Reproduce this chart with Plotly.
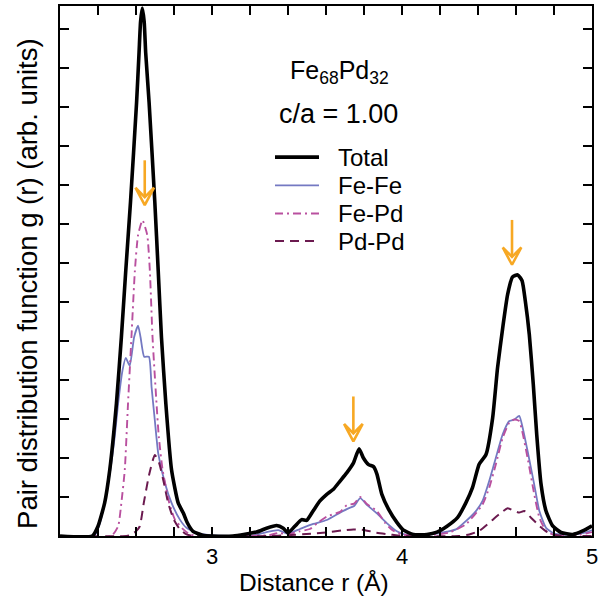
import plotly.graph_objects as go

# ---------------- data ----------------
r_total = [2.20, 2.37, 2.40, 2.435, 2.462, 2.497, 2.523, 2.546, 2.571, 2.603, 2.616, 2.624, 2.633, 2.643,
           2.651, 2.669, 2.699, 2.717, 2.734, 2.757, 2.787, 2.822, 2.849, 2.87, 2.90, 2.95, 3.00, 3.11,
           3.234, 3.287, 3.34, 3.375, 3.40, 3.436, 3.472, 3.498, 3.533, 3.568, 3.604, 3.639, 3.674, 3.709,
           3.744, 3.774, 3.797, 3.824, 3.85, 3.868, 3.894, 3.929, 3.973, 4.008, 4.06, 4.131, 4.184, 4.237,
           4.292, 4.336, 4.371, 4.406, 4.442, 4.477, 4.503, 4.53, 4.556, 4.582, 4.609, 4.632, 4.649, 4.67,
           4.691, 4.709, 4.732, 4.758, 4.793, 4.837, 4.898, 4.951, 5.0]
g_total = [0, 0, 0.25, 0.85, 1.7, 3.4, 5.1, 6.8, 8.57, 11.12, 12.4, 13.2, 13.55, 13.2,
           12.4, 11.12, 8.57, 6.8, 5.1, 3.4, 1.7, 0.85, 0.59, 0.34, 0.12, 0.02, 0.0, 0.0,
           0.1, 0.2, 0.27, 0.2, 0.08, 0.25, 0.42, 0.4, 0.65, 0.9, 1.07, 1.2, 1.41, 1.62,
           1.87, 2.24, 2.0, 1.83, 1.78, 1.59, 1.07, 0.69, 0.35, 0.15, 0.04, 0.04, 0.1, 0.25,
           0.47, 0.85, 1.24, 1.84, 2.09, 3.03, 4.32, 5.34, 6.2, 6.65, 6.7, 6.55, 6.03, 5.17,
           3.89, 2.61, 1.32, 0.64, 0.26, 0.09, 0.04, 0.13, 0.26]

r_fefe = [2.20, 2.38, 2.405, 2.435, 2.465, 2.488, 2.506, 2.529, 2.546, 2.567, 2.59, 2.611, 2.624, 2.643,
          2.668, 2.682, 2.699, 2.717, 2.752, 2.787, 2.831, 2.866, 2.919, 2.99, 3.2, 3.287, 3.349, 3.40,
          3.463, 3.533, 3.604, 3.674, 3.718, 3.748, 3.78, 3.815, 3.868, 3.92, 3.973, 4.008, 4.078, 4.166,
          4.237, 4.284, 4.336, 4.389, 4.424, 4.459, 4.494, 4.53, 4.565, 4.591, 4.617, 4.635, 4.661, 4.696,
          4.723, 4.758, 4.802, 4.898, 4.968, 5.0]
g_fefe = [0, 0, 0.25, 0.85, 1.7, 2.55, 3.4, 4.25, 4.57, 4.37, 5.1, 5.4, 5.1, 4.6,
          4.6, 3.82, 2.97, 2.12, 1.36, 0.85, 0.42, 0.21, 0.08, 0.02, 0.0, 0.1, 0.15, 0.06,
          0.18, 0.31, 0.41, 0.6, 0.71, 0.77, 0.97, 0.8, 0.58, 0.33, 0.12, 0.05, 0.02, 0.05,
          0.11, 0.17, 0.38, 0.64, 0.9, 1.41, 2.01, 2.61, 2.95, 2.99, 3.08, 2.78, 2.18, 1.32,
          0.64, 0.21, 0.06, 0.03, 0.09, 0.15]

r_fepd = [2.20, 2.47, 2.506, 2.523, 2.541, 2.558, 2.576, 2.594, 2.611, 2.634, 2.659, 2.673, 2.687, 2.708,
          2.72, 2.74, 2.775, 2.805, 2.849, 2.884, 2.93, 3.3, 3.35, 3.40, 3.46, 3.515, 3.56, 3.604,
          3.674, 3.709, 3.748, 3.78, 3.815, 3.868, 3.912, 3.95, 4.0, 4.1, 4.2, 4.249, 4.336, 4.424,
          4.459, 4.494, 4.53, 4.565, 4.591, 4.617, 4.661, 4.696, 4.723, 4.758, 4.8, 4.9, 5.0]
g_fepd = [0, 0, 0.25, 0.85, 1.7, 3.4, 5.1, 6.8, 7.73, 8.1, 7.73, 6.8, 5.1, 3.4,
          2.55, 1.7, 0.85, 0.42, 0.17, 0.04, 0.0, 0.02, 0.08, 0.04, 0.12, 0.18, 0.35, 0.5,
          0.62, 0.79, 0.83, 1.0, 0.82, 0.64, 0.33, 0.15, 0.04, 0.0, 0.05, 0.09, 0.3, 0.81,
          1.24, 1.84, 2.52, 2.91, 2.99, 2.95, 2.0, 1.07, 0.47, 0.13, 0.03, 0.0, 0.1]

r_pdpd = [2.20, 2.55, 2.567, 2.6, 2.62, 2.641, 2.669, 2.699, 2.722, 2.747, 2.769, 2.799, 2.831, 2.866,
          2.9, 3.3, 3.4, 3.52, 3.604, 3.68, 3.744, 3.806, 3.86, 3.95, 4.0, 4.3, 4.354, 4.406,
          4.459, 4.512, 4.556, 4.591, 4.617, 4.644, 4.679, 4.723, 4.767, 4.802, 4.85, 5.0]
g_pdpd = [0, 0, 0.02, 0.12, 0.25, 0.85, 1.57, 2.08, 1.87, 1.36, 0.85, 0.42, 0.17, 0.04,
          0.0, 0.0, 0.02, 0.06, 0.09, 0.14, 0.17, 0.15, 0.09, 0.03, 0.0, 0.0, 0.04, 0.13,
          0.34, 0.56, 0.71, 0.64, 0.6, 0.64, 0.47, 0.26, 0.09, 0.03, 0.0, 0.0]

series_names = ["Total", "Fe-Fe", "Fe-Pd", "Pd-Pd"]

# arrows marking the peaks: position and tip height
arrow_r = [2.646, 3.744, 4.579]
arrow_tip = [8.49, 2.43, 6.96]

x_tick_vals = [3, 4, 5]
x_tick_text = ["3", "4", "5"]
x_minor_vals = [2.2, 2.4, 2.6, 2.8, 3.2, 3.4, 3.6, 3.8, 4.2, 4.4, 4.6, 4.8]
y_tick_vals = list(range(0, 14))

# ---------------- styling ----------------
FONT = "Liberation Sans, Arial, Helvetica, sans-serif"
X_RANGE = [2.2, 5.0]
Y_RANGE = [0, 13.6]
W, H = 611, 610
ML, MR, MT, MB = 60, 19, 4, 74
PW, PH = W - ML - MR, H - MT - MB

colors = {"Total": "#000000", "Fe-Fe": "#7479c2", "Fe-Pd": "#b9509f", "Pd-Pd": "#6b1a4f"}
widths = {"Total": 3.6, "Fe-Fe": 1.8, "Fe-Pd": 1.9, "Pd-Pd": 2.0}
dashes = {"Total": "solid", "Fe-Fe": "solid", "Fe-Pd": "8px,4px,2px,4px", "Pd-Pd": "9px,6px"}
data = {"Total": (r_total, g_total), "Fe-Fe": (r_fefe, g_fefe),
        "Fe-Pd": (r_fepd, g_fepd), "Pd-Pd": (r_pdpd, g_pdpd)}

fig = go.Figure()
for name in ["Fe-Fe", "Fe-Pd", "Pd-Pd", "Total"]:
    r, g = data[name]
    fig.add_trace(go.Scatter(
        x=r, y=g, mode="lines", name=name, showlegend=False,
        line=dict(color=colors[name], width=widths[name], dash=dashes[name],
                  shape="spline", smoothing=0.5),
        hoverinfo="skip"))

# arrows (hollow barbed heads) built from the arrow list, sized in pixels
dxp = (X_RANGE[1] - X_RANGE[0]) / PW
dyp = (Y_RANGE[1] - Y_RANGE[0]) / PH
ORANGE = "#f7a823"
ax, ay = [], []
for xr, yt in zip(arrow_r, arrow_tip):
    shaft_len, head_len, half_w, notch = 45, 17.5, 9.3, 8
    ax += [xr, xr, None]
    ay += [yt + shaft_len * dyp, yt + notch * dyp, None]
    ax += [xr - half_w * dxp, xr, xr + half_w * dxp, xr, xr - half_w * dxp, None]
    ay += [yt + head_len * dyp, yt, yt + head_len * dyp, yt + notch * dyp, yt + head_len * dyp, None]
fig.add_trace(go.Scatter(x=ax, y=ay, mode="lines", showlegend=False, hoverinfo="skip",
                         line=dict(color=ORANGE, width=2.6)))

# legend drawn by hand (sample line + label)
leg_y_px = [155.7, 184, 212.3, 240]
shapes, annotations = [], []
for name, ypx in zip(series_names, leg_y_px):
    yp = (H - MB - ypx) / PH
    shapes.append(dict(type="line", xref="paper", yref="paper",
                       x0=(275 - ML) / PW, x1=(319 - ML) / PW, y0=yp, y1=yp,
                       line=dict(color=colors[name], width=widths[name], dash=dashes[name])))
    annotations.append(dict(text=name, xref="paper", yref="paper", x=(336 - ML) / PW, y=yp,
                            xanchor="left", yanchor="middle", showarrow=False,
                            font=dict(family=FONT, size=24, color="black")))

annotations.append(dict(text="Fe<sub>68</sub>Pd<sub>32</sub>", xref="paper", yref="paper",
                        x=(339 - ML) / PW, y=(H - MB - 70) / PH, xanchor="center", yanchor="middle",
                        showarrow=False, font=dict(family=FONT, size=25, color="black")))
annotations.append(dict(text="c/a = 1.00", xref="paper", yref="paper",
                        x=(338 - ML) / PW, y=(H - MB - 112) / PH, xanchor="center", yanchor="middle",
                        showarrow=False, font=dict(family=FONT, size=27, color="black")))
# axis titles
annotations.append(dict(text="Distance r (Å)", xref="paper", yref="paper",
                        x=(314 - ML) / PW, y=(H - MB - 583) / PH, xanchor="center", yanchor="middle",
                        showarrow=False, font=dict(family=FONT, size=24.5, color="black")))
annotations.append(dict(text="Pair distribution function g (r) (arb. units)", xref="paper", yref="paper",
                        x=(28 - ML) / PW, y=(H - MB - 283) / PH, xanchor="center", yanchor="middle",
                        textangle=-90, showarrow=False, font=dict(family=FONT, size=27.5, color="black")))

axis_common = dict(showgrid=False, zeroline=False, showline=True, linecolor="black", linewidth=2,
                   mirror="ticks", ticks="inside", ticklen=9, tickwidth=1.6, tickcolor="black")
fig.update_layout(
    width=W, height=H, margin=dict(l=ML, r=MR, t=MT, b=MB),
    paper_bgcolor="white", plot_bgcolor="white",
    font=dict(family=FONT, color="black"),
    xaxis=dict(range=X_RANGE, tickmode="array", tickvals=x_tick_vals, ticktext=x_tick_text,
               tickfont=dict(family=FONT, size=22, color="black"),
               minor=dict(tickmode="array", tickvals=x_minor_vals, ticks="inside", ticklen=9,
                          tickwidth=1.6, tickcolor="black", showgrid=False),
               **axis_common),
    yaxis=dict(range=Y_RANGE, tickmode="array", tickvals=y_tick_vals, showticklabels=False,
               **axis_common),
    shapes=shapes, annotations=annotations,
)
fig.write_html("out.html")
